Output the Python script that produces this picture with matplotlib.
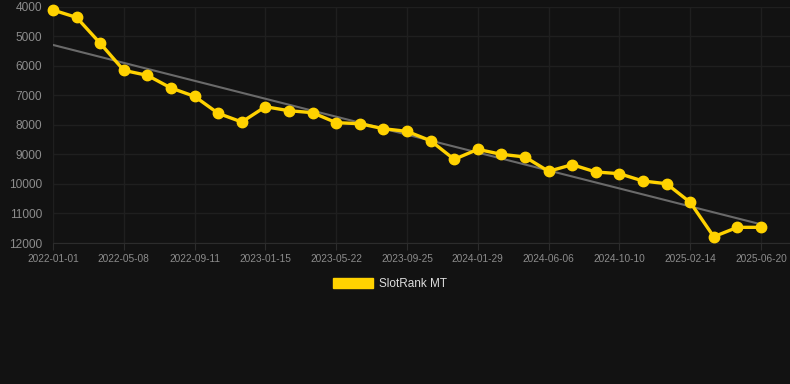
import numpy as np
import matplotlib
matplotlib.use("Agg")
import matplotlib.pyplot as plt
from matplotlib.patches import Patch

plt.rcParams['font.family'] = ['Liberation Sans', 'DejaVu Sans']

# tick labels (every third point)
tick_labels = ['2022-01-01', '2022-05-08', '2022-09-11', '2023-01-15', '2023-05-22',
               '2023-09-25', '2024-01-29', '2024-06-06', '2024-10-10', '2025-02-14',
               '2025-06-20']

# rank values, one point every ~42 days
ranks = [4120, 4370, 5245, 6160, 6330, 6757, 7040, 7614, 7907, 7390,
         7525, 7592, 7930, 7964, 8134, 8223, 8540, 9170, 8832, 9000,
         9090, 9575, 9350, 9598, 9655, 9903, 9995, 10624, 11787, 11470,
         11470]

series_name = 'SlotRank MT'

bg = '#121212'
yellow = '#FFD200'

fig = plt.figure(figsize=(7.9, 3.84), dpi=100, facecolor=bg)
ax = fig.add_axes([53 / 790, 1 - 243 / 384, 1 - 53 / 790, (243 - 6.5) / 384])
ax.set_facecolor(bg)

x = np.arange(len(ranks))
y = np.array(ranks)

# trend line
k, b = np.polyfit(x, y, 1)
ax.plot(x, k * x + b, color='#6a6a6a', lw=1.5, zorder=2)

ax.plot(x, y, color=yellow, lw=2.4, marker='o', markersize=7.5,
        markerfacecolor=yellow, markeredgecolor=yellow, zorder=3, clip_on=False)

ax.set_ylim(12000, 4000)
ax.set_xlim(0, 31.23)
ax.set_yticks(range(4000, 12001, 1000))
ax.set_xticks(range(0, len(ranks), 3))
ax.set_xticklabels(tick_labels)

ax.grid(True, color='#1f1f1f', lw=1)
ax.set_axisbelow(True)
for s in ['top', 'right', 'left']:
    ax.spines[s].set_visible(False)
ax.spines['bottom'].set_color('#2c2c2c')
ax.tick_params(axis='y', length=0, pad=8, labelsize=8.6, labelcolor='#8c8c8c')
ax.tick_params(axis='x', length=5, color='#2c2c2c', pad=3, labelsize=7.3,
               labelcolor='#8c8c8c')

handle = Patch(facecolor=yellow, edgecolor=yellow)
fig.legend([handle], [series_name], loc='center', bbox_to_anchor=(390 / 790, 1 - 284 / 384),
           frameon=False, fontsize=8.5, labelcolor='#dddddd',
           handlelength=3.4, handleheight=1.0, handletextpad=0.5)

fig.savefig('out.png', dpi=100, facecolor=bg)
